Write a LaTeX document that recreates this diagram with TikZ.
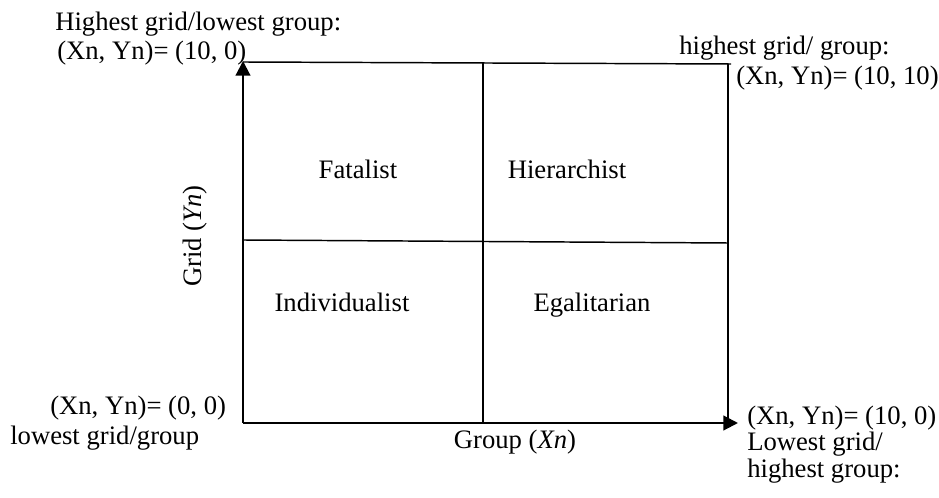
\documentclass[tikz,border=0pt]{standalone}
\usepackage{fontspec}
\setmainfont{Liberation Serif}
\usetikzlibrary{arrows.meta}
\tikzset{lbl/.style={font=\fontsize{20}{22}\selectfont, inner sep=0pt},
  axis/.style={black, line width=1.6pt, -{Triangle[length=11pt,width=11pt]}},
  cell/.style={black, line width=1.1pt}}

\begin{document}
\begin{tikzpicture}[x=0.75pt,y=-0.75pt]
\useasboundingbox (0,0) rectangle (939,498);
% corners of the grid
\coordinate (O) at (243,423);
\coordinate (ytip) at (243,61);
\coordinate (xtip) at (738,423);
\coordinate (tl) at (243,62);
\coordinate (tr) at (731,64);
\coordinate (rt) at (728,64);
\coordinate (br) at (728,423);
\coordinate (mt) at (483,62.5);
\coordinate (mb) at (483,423);
\coordinate (ml) at (243,240);
\coordinate (mr) at (728,243);
% axes
\draw[axis] (O) -- (ytip);
\draw[axis] (O) -- (xtip);
% cells
\draw[cell] (tl) -- (tr);
\draw[cell] (rt) -- (br);
\draw[cell] (mt) -- (mb);
\draw[cell] (ml) -- (mr);
% cell names
\node[lbl, anchor=base] (fat) at (358,179) {Fatalist};
\node[lbl, anchor=base] (hier) at (567,179) {Hierarchist};
\node[lbl, anchor=base] (ind) at (342,312) {Individualist};
\node[lbl, anchor=base] (ega) at (592,312) {Egalitarian};
% axis names
\node[lbl, rotate=90] (grid) at (195,236) {Grid (\textit{Yn})};
\node[lbl, anchor=base] (group) at (515,449) {Group (\textit{Xn})};
% corner labels
\node[lbl, anchor=base west] (c10a) at (55,31) {Highest grid/lowest group:};
\node[lbl, anchor=base west] (c10b) at (57,60) {(Xn, Yn)= (10, 0)};
\node[lbl, anchor=base west] (c1010a) at (679,55) {highest grid/ group:};
\node[lbl, anchor=base west] (c1010b) at (736,85) {(Xn, Yn)= (10, 10)};
\node[lbl, anchor=base west] (c00a) at (50,415) {(Xn, Yn)= (0, 0)};
\node[lbl, anchor=base west] (c00b) at (10,445) {lowest grid/group};
\node[lbl, anchor=base west] (c100a) at (747,425) {(Xn, Yn)= (10, 0)};
\node[lbl, anchor=base west] (c100b) at (747,451) {Lowest grid/};
\node[lbl, anchor=base west] (c100c) at (747,478) {highest group:};
\end{tikzpicture}
\end{document}
